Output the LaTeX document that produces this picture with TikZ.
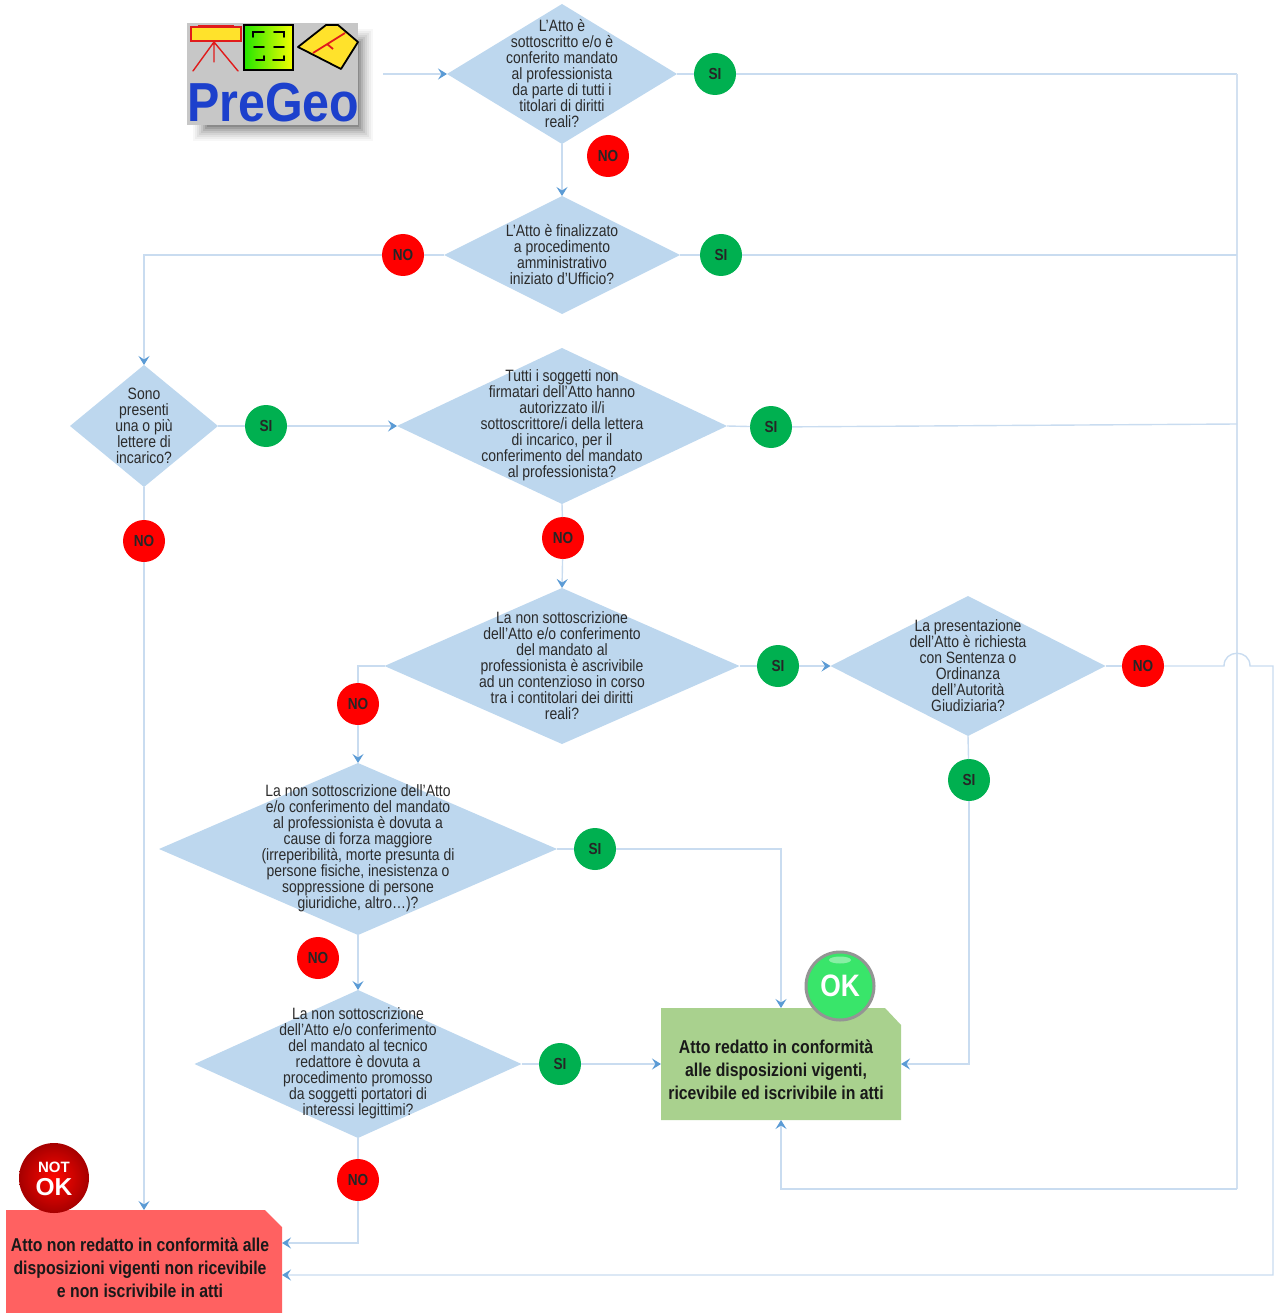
\documentclass[tikz,border=0pt]{standalone}
\usepackage{fontspec}
\setmainfont{Liberation Sans}
\newfontfamily\lbl[FakeStretch=0.85]{Liberation Sans}
\usetikzlibrary{arrows.meta,shapes.geometric}
\definecolor{dia}{HTML}{BDD7EE}
\definecolor{wire}{HTML}{C9DCF0}
\definecolor{trunk}{HTML}{D3E1F1}
\definecolor{tipc}{HTML}{5B9BD5}
\definecolor{sigreen}{HTML}{00B050}
\definecolor{txtc}{HTML}{2B2B2B}
\definecolor{okfill}{HTML}{A9D18E}
\definecolor{kofill}{HTML}{FF6161}
\definecolor{logoblue}{HTML}{1C40CC}
\definecolor{logoyellow}{HTML}{FFE22B}
\definecolor{logored}{HTML}{E01B1B}
\tikzset{
  dianode/.style={shape=diamond,fill=dia,inner sep=0pt,outer sep=0pt},
  diatext/.style={align=center,text=txtc,inner sep=0pt,font=\fontsize{16.4}{16}\selectfont\lbl},
  yes/.style={circle,fill=sigreen,minimum size=42pt,inner sep=0pt,outer sep=0pt,text=black!85,text depth=0pt,font=\fontsize{16}{16}\selectfont\bfseries\lbl},
  no/.style={circle,fill=red,minimum size=42pt,inner sep=0pt,outer sep=0pt,text=black!85,text depth=0pt,font=\fontsize{16}{16}\selectfont\bfseries\lbl},
  wireline/.style={draw=wire,line width=1.4pt},
  trunkline/.style={draw=trunk,line width=2pt},
  arr/.style={wireline,-{Stealth[length=9pt,width=11pt,inset=3.5pt,color=tipc]}},
  outcome/.style={rectangle,inner sep=0pt,outer sep=0pt},
  outtext/.style={align=center,text=black!90,inner sep=0pt,font=\fontsize{18.6}{23}\selectfont\bfseries\lbl},
  sealtext/.style={anchor=base,inner sep=0pt,text=white,font=\bfseries},
}
\newcommand{\dianode}[6]{%
  \node[dianode,minimum width=#4pt,minimum height=#5pt] (#1) at (#2,#3) {};
  \node[diatext] (#1t) at (#2,#3-0.5) {#6};}
\begin{document}
\begin{tikzpicture}[x=1pt,y=-1pt]
\useasboundingbox (0,0) rectangle (1277,1313);

% logo
\foreach \g/\o in {0/.03,2/.04,4/.05,6/.06,8/.07,10/.09,12/.11,14/.13}{
  \fill[black,opacity=\o] (193+\g,29+\g) rectangle (373-\g,141-\g);
}
\fill[black!22] (187,23) rectangle (358,125);
\draw[logored,line width=1.4pt,fill=logoyellow] (191,27) rectangle (241,41);
\draw[logored,line width=1.6pt] (198,25.5) -- (234,25.5);
\draw[logored,line width=1.4pt,line cap=round] (214,42) -- (193,71) (214,42) -- (238,71) (214,42) -- (214,62);
\shade[shading angle=135,left color=green!80!lime!90!black,right color=yellow!85!lime] (244,25) rectangle (293,70);
\draw[black,line width=1.8pt] (244,25) rectangle (293,70);
\draw[black,line width=1.8pt,line cap=round]
  (253,37) -- (253,32) -- (264,32) (274,32) -- (284,32) -- (284,37)
  (254,47) -- (264,47) (274,47) -- (284,47)
  (256,60) -- (264,60) -- (264,56) (273,60) -- (284,60) -- (284,56);
\draw[black,line width=1.8pt,fill=logoyellow,line join=round] (298,47) -- (326,25) -- (338,25) -- (358,42) -- (341,69) -- cycle;
\draw[logored,line width=1.8pt] (313,53) -- (345,33) (327,44) -- (333,49);
\node[inner sep=0pt,anchor=base west,text=logoblue,font=\fontsize{55}{55}\selectfont\bfseries,xscale=.88] (logo) at (187,122) {PreGeo};
\coordinate (start) at (383,74);

% decisions
\dianode{d1}{562}{74}{230}{140}{L’Atto è\\sottoscritto e/o è\\conferito mandato\\al professionista\\da parte di tutti i\\titolari di diritti\\reali?}
\dianode{d2}{562}{255}{236}{118}{L’Atto è finalizzato\\a procedimento\\amministrativo\\iniziato d’Ufficio?}
\dianode{d3}{144}{426}{148}{122}{Sono\\presenti\\una o più\\lettere di\\incarico?}
\dianode{d4}{562}{426}{330}{156}{Tutti i soggetti non\\firmatari dell’Atto hanno\\autorizzato il/i\\sottoscrittore/i della lettera\\di incarico, per il\\conferimento del mandato\\al professionista?}
\dianode{d5}{562}{666}{355}{156}{La non sottoscrizione\\dell’Atto e/o conferimento\\del mandato al\\professionista è ascrivibile\\ad un contenzioso in corso\\tra i contitolari dei diritti\\reali?}
\dianode{d6}{968}{666}{275}{140}{La presentazione\\dell’Atto è richiesta\\con Sentenza o\\Ordinanza\\dell’Autorità\\Giudiziaria?}
\dianode{d7}{358}{849}{398}{172}{La non sottoscrizione dell’Atto\\e/o conferimento del mandato\\al professionista è dovuta a\\cause di forza maggiore\\(irreperibilità, morte presunta di\\persone fisiche, inesistenza o\\soppressione di persone\\giuridiche, altro…)?}
\dianode{d8}{358}{1064}{327}{148}{La non sottoscrizione\\dell’Atto e/o conferimento\\del mandato al tecnico\\redattore è dovuta a\\procedimento promosso\\da soggetti portatori di\\interessi legittimi?}

% outcomes
\fill[okfill] (661,1008) -- (885,1008) -- (901,1025) -- (901,1120) -- (661,1120) -- cycle;
\node[outcome,minimum width=240pt,minimum height=112pt] (ok) at (781,1064) {};
\node[outtext] (okt) at (776,1070) {Atto redatto in conformità\\alle disposizioni vigenti,\\ricevibile ed iscrivibile in atti};
\fill[kofill] (6,1210) -- (265,1210) -- (282,1227) -- (282,1314) -- (6,1314) -- cycle;
\node[outcome,minimum width=276pt,minimum height=104pt] (ko) at (144,1262) {};
\node[outtext] (kot) at (140,1268) {Atto non redatto in conformità alle\\disposizioni vigenti non ricevibile\\e non iscrivibile in atti};

% badges
\node[yes] (s1) at (715,74) {SI};
\node[yes] (s2) at (721,255) {SI};
\node[yes] (s3) at (266,426) {SI};
\node[yes] (s4) at (771,427) {SI};
\node[yes] (s5) at (778,666) {SI};
\node[yes] (s6) at (969,780) {SI};
\node[yes] (s7) at (595,849) {SI};
\node[yes] (s8) at (560,1064) {SI};
\node[no] (n1) at (608,156) {NO};
\node[no] (n2) at (403,255) {NO};
\node[no] (n3) at (144,541) {NO};
\node[no] (n4) at (563,538) {NO};
\node[no] (n5) at (358,704) {NO};
\node[no] (n6) at (1143,666) {NO};
\node[no] (n7) at (318,958) {NO};
\node[no] (n8) at (358,1180) {NO};

% waypoints
\coordinate (r1) at (1237,74);
\coordinate (r2) at (1237,255);
\coordinate (r4) at (1237,424);
\coordinate (rb) at (1237,1189);
\coordinate (ub) at (781,1189);
\coordinate (l2) at (144,255);
\coordinate (l5) at (358,666);
\coordinate (t7) at (781,849);
\coordinate (t6) at (969,1064);
\coordinate (l8) at (358,1243);
\coordinate (a1) at (1224,666);
\coordinate (a2) at (1250,666);
\coordinate (f1) at (1273,666);
\coordinate (f2) at (1273,1275);

% connectors
\draw[arr] (start) -- (d1.west);
\draw[wireline] (d1.east) -- (s1);
\draw[wireline] (s1) -- (r1);
\draw[trunkline] (r1) -- (rb);
\draw[arr] (rb) -- (ub) -- (ok.south);
\draw[arr] (d1.south) -- (d2.north);
\draw[wireline] (d2.east) -- (s2);
\draw[wireline] (s2) -- (r2);
\draw[wireline] (d2.west) -- (n2);
\draw[arr] (n2) -- (l2) -- (d3.north);
\draw[wireline] (d3.east) -- (s3);
\draw[arr] (s3) -- (d4.west);
\draw[wireline] (d3.south) -- (n3);
\draw[arr] (n3) -- (ko.north);
\draw[wireline] (d4.east) -- (s4);
\draw[wireline] (s4) -- (r4);
\draw[wireline] (d4.south) -- (n4);
\draw[arr] (n4) -- (d5.north);
\draw[wireline] (d5.east) -- (s5);
\draw[arr] (s5) -- (d6.west);
\draw[wireline] (d5.west) -- (l5) -- (n5);
\draw[arr] (n5) -- (d7.north);
\draw[wireline] (d7.east) -- (s7);
\draw[arr] (s7) -- (t7) -- (ok.north);
\draw[arr] (d7.south) -- (d8.north);
\draw[wireline] (d8.east) -- (s8);
\draw[arr] (s8) -- (ok.west);
\draw[wireline] (d8.south) -- (n8);
\draw[arr] (n8) -- (l8) -- (l8 -| ko.east);
\draw[wireline] (d6.south) -- (s6);
\draw[arr] (s6) -- (t6) -- (ok.east);
\draw[wireline] (d6.east) -- (n6);
\draw[arr] (n6) -- (a1) .. controls (1224,649) and (1250,649) .. (a2) -- (f1) -- (f2) -- (f2 -| ko.east);

% status seals
\node[circle,minimum size=68pt,inner sep=0pt,draw=black!42,line width=3pt,fill=green!72!cyan!75!white!90!black,text=white,font=\fontsize{31}{31}\selectfont\bfseries\lbl] (okseal) at (840,986) {OK};
\fill[white,opacity=.4] (840,960) ellipse (11pt and 3.5pt);
\node[circle,minimum size=70pt,inner sep=0pt,inner color=red!95!orange,outer color=red!65!black] (koseal) at (54,1178) {};
\node[sealtext,font=\fontsize{15}{15}\selectfont\bfseries] (kos1) at (54,1172) {NOT};
\node[sealtext,font=\fontsize{24.5}{24.5}\selectfont\bfseries] (kos2) at (54,1195.5) {OK};
\end{tikzpicture}
\end{document}
